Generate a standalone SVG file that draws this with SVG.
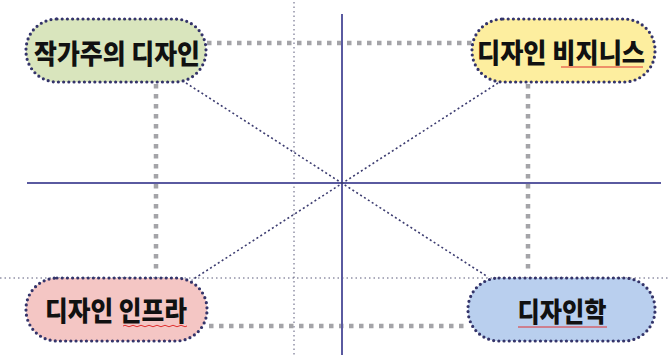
<svg xmlns="http://www.w3.org/2000/svg" width="668" height="355" viewBox="0 0 668 355">
<style>
.node{stroke:#34346a;stroke-width:3.2;stroke-dasharray:0 5.2;stroke-linecap:round}
.lbl{font-family:"Noto Sans CJK KR","Noto Sans",sans-serif;font-weight:900;font-size:27px;fill:#111111;text-anchor:middle}
.thick{stroke:#a4a4a8;stroke-width:4.5;stroke-dasharray:4.5 5.5;fill:none}
.thin{stroke:#5a5a7a;stroke-width:1;stroke-dasharray:1.5 3;fill:none}
.diag{stroke:#3c3c70;stroke-width:1.6;stroke-dasharray:2 2.6;fill:none}
.axis{stroke:#5a5aa0;stroke-width:2;fill:none}
.sq{stroke:#e03030;stroke-width:1;fill:none}
</style>
<rect width="668" height="355" fill="#ffffff"/>
<g id="connectors">
<line class="thin" x1="294" y1="2" x2="294" y2="355"/>
<line class="thin" x1="0" y1="278" x2="668" y2="278"/>
<line class="thick" x1="207" y1="43" x2="472" y2="43"/>
<line class="thick" x1="209" y1="326" x2="468" y2="326"/>
<line class="thick" x1="156" y1="84" x2="156" y2="274"/>
<line class="thick" x1="528" y1="84" x2="528" y2="274"/>
<line class="axis" x1="27" y1="183" x2="661" y2="183"/>
<line class="axis" x1="342" y1="14" x2="342" y2="355"/>
<line class="diag" x1="186" y1="83" x2="488" y2="277"/>
<line class="diag" x1="498" y1="83" x2="192" y2="280"/>
</g>
<g id="node-auteur">
<rect class="node" x="26" y="19" width="180" height="63" rx="31" fill="#d9e5bd"/>
<text class="lbl" x="117" y="64" textLength="166" lengthAdjust="spacingAndGlyphs">작가주의 디자인</text>
</g>
<g id="node-business">
<rect class="node" x="472" y="19" width="183" height="63" rx="31" fill="#fdee9f"/>
<text class="lbl" x="561" y="63" textLength="168" lengthAdjust="spacingAndGlyphs">디자인 비지니스</text>
<path class="sq" d="M561 67 l82 0"/>
</g>
<g id="node-infra">
<rect class="node" x="26" y="278" width="181" height="63" rx="31" fill="#f4c6c4"/>
<text class="lbl" x="116" y="321" textLength="142" lengthAdjust="spacingAndGlyphs">디자인 인프라</text>
<path class="sq" d="M123 326 q2 -1.5 4 0 t4 0 t4 0 t4 0 t4 0 t4 0 t4 0 t4 0 t4 0 t4 0 t4 0 t4 0 t4 0 t4 0 t4 0 t4 0"/>
</g>
<g id="node-studies">
<rect class="node" x="468" y="278" width="187" height="63" rx="31" fill="#b9cfee"/>
<text class="lbl" x="562" y="322" textLength="89" lengthAdjust="spacingAndGlyphs">디자인학</text>
<path class="sq" d="M518 327 l89 0"/>
</g>
</svg>
